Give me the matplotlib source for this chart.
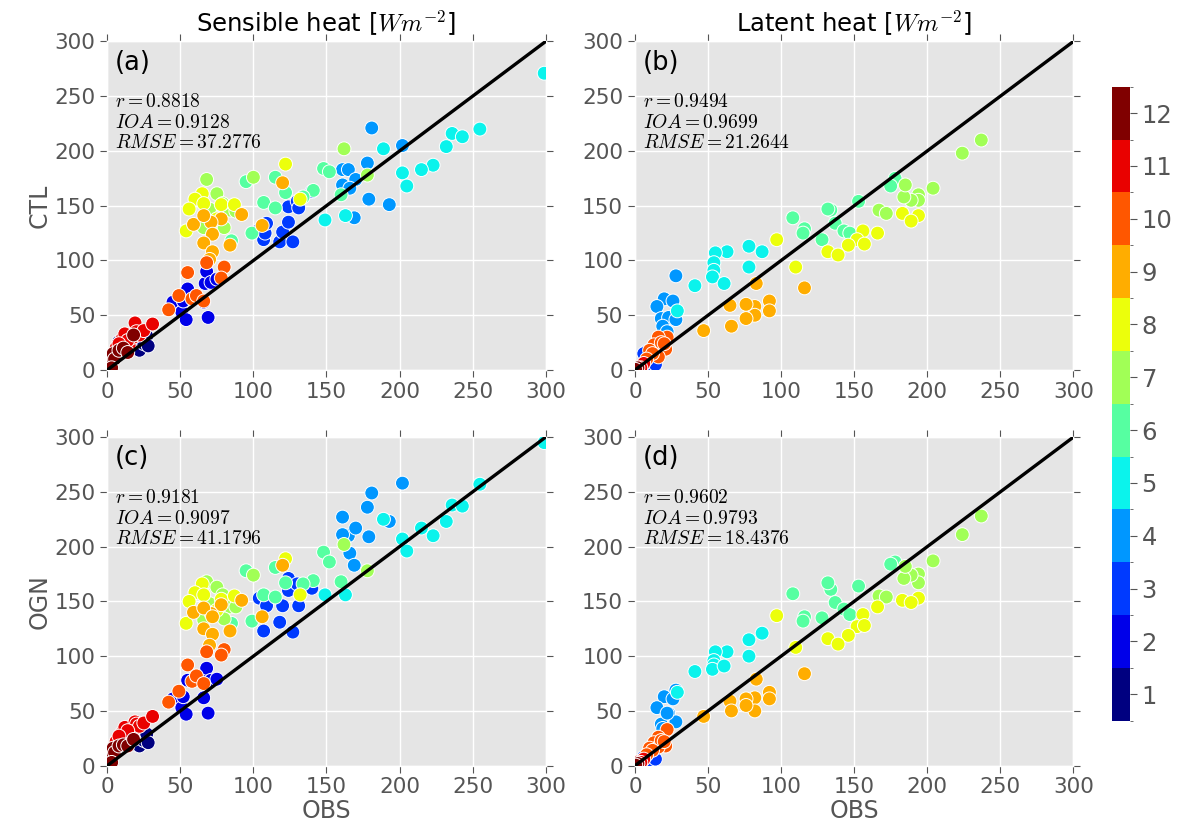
import matplotlib
matplotlib.use("Agg")
import matplotlib.pyplot as plt
import numpy as np
from matplotlib.colors import BoundaryNorm

plt.style.use("ggplot")
plt.rcParams["mathtext.fontset"] = "cm"

# ---- sensible heat (OBS shared by CTL and OGN), grouped by month ----
sh_obs = {
    1: [3, 6, 8, 12, 16, 20, 22, 25, 27, 28],
    2: [45, 51, 52, 54, 55, 66, 67, 68, 69, 71, 75],
    3: [104, 107, 108, 109, 118, 120, 124, 124, 127, 130, 131, 140],
    4: [181, 202, 178, 161, 165, 170, 161, 166, 179, 193, 169],
    5: [299, 255, 236, 243, 232, 189, 223, 215, 202, 205, 149, 163],
    6: [148, 152, 141, 134, 160, 115, 122, 107, 115, 95, 99, 85],
    7: [162, 178, 100, 68, 75, 70, 84, 88, 80, 66, 79],
    8: [122, 65, 60, 56, 66, 78, 87, 54, 75, 132],
    9: [120, 92, 78, 71, 59, 66, 72, 66, 84, 72, 70, 106],
    10: [55, 80, 49, 42, 58, 61, 66, 78, 68],
    11: [6, 10, 12, 15, 18, 19, 20, 22, 25, 31, 14, 8],
    12: [1, 2, 4, 5, 8, 11, 14, 18, 3],
}
sh_ctl = {
    1: [8, 14, 26, 20, 23, 20, 18, 24, 31, 22],
    2: [62, 53, 63, 46, 74, 62, 79, 90, 48, 80, 83],
    3: [128, 119, 125, 134, 117, 126, 135, 149, 117, 154, 148, 163],
    4: [221, 205, 189, 183, 183, 174, 169, 166, 156, 151, 139],
    5: [271, 220, 216, 213, 204, 202, 187, 183, 180, 168, 137, 141],
    6: [184, 181, 164, 158, 160, 176, 162, 153, 148, 172, 125, 118],
    7: [202, 178, 176, 174, 161, 147, 146, 145, 130, 130, 152],
    8: [188, 161, 156, 147, 152, 151, 151, 127, 138, 156],
    9: [171, 142, 138, 135, 133, 141, 124, 116, 114, 108, 101, 132],
    10: [89, 94, 68, 55, 65, 68, 63, 84, 98],
    11: [20, 28, 33, 23, 30, 43, 35, 32, 36, 42, 27, 24],
    12: [5, 12, 15, 10, 18, 20, 16, 32, 2],
}
sh_ogn = {
    1: [8, 14, 25, 20, 22, 19, 18, 23, 29, 21],
    2: [61, 53, 63, 47, 78, 62, 78, 89, 48, 78, 79],
    3: [153, 123, 155, 146, 131, 146, 160, 171, 122, 166, 146, 162],
    4: [249, 258, 236, 227, 210, 217, 211, 194, 209, 223, 183],
    5: [295, 257, 238, 237, 223, 225, 210, 217, 207, 196, 156, 156],
    6: [195, 186, 169, 166, 168, 181, 167, 156, 154, 178, 132, 130],
    7: [202, 178, 174, 168, 163, 148, 145, 145, 134, 133, 156],
    8: [189, 166, 158, 150, 156, 152, 155, 130, 142, 156],
    9: [183, 151, 147, 139, 140, 144, 136, 125, 123, 120, 110, 136],
    10: [92, 106, 68, 58, 77, 82, 75, 101, 104],
    11: [22, 30, 35, 28, 33, 40, 38, 36, 39, 45, 32, 27],
    12: [6, 11, 16, 12, 18, 19, 18, 24, 3],
}

# ---- latent heat ----
lh_obs = {
    1: [1, 2, 3],
    2: [4, 7, 9],
    3: [8, 6, 12, 10, 14],
    4: [28, 20, 26, 15, 18, 23, 28, 19, 22],
    5: [78, 87, 78, 63, 55, 54, 54, 53, 61, 41, 29],
    6: [178, 175, 153, 134, 132, 137, 143, 147, 128, 116, 115, 108],
    7: [237, 224, 204, 194, 194, 189, 184, 185, 167, 172],
    8: [183, 194, 189, 166, 156, 152, 157, 146, 132, 139, 97, 110],
    9: [116, 92, 92, 83, 82, 82, 76, 76, 65, 66, 47],
    10: [22, 16, 13, 21, 16, 10, 18, 12, 20, 8],
    11: [3, 5, 6, 4],
    12: [1, 2, 0.5],
}
lh_ctl = {
    1: [1, 2, 1],
    2: [3, 4, 8],
    3: [17, 15, 6, 5, 5],
    4: [86, 65, 63, 58, 47, 48, 46, 40, 35],
    5: [113, 108, 94, 108, 107, 98, 91, 85, 79, 77, 54],
    6: [175, 168, 154, 146, 147, 134, 127, 125, 119, 129, 125, 139],
    7: [210, 198, 166, 160, 155, 155, 158, 169, 146, 143],
    8: [143, 141, 136, 125, 127, 119, 115, 114, 108, 105, 119, 94],
    9: [75, 63, 54, 79, 58, 50, 60, 47, 59, 40, 36],
    10: [30, 30, 23, 19, 12, 18, 25, 15, 24, 10],
    11: [3, 4, 6, 2],
    12: [1, 2, 0.5],
}
lh_ogn = {
    1: [1, 1, 2],
    2: [3, 5, 8],
    3: [10, 8, 6, 5, 6],
    4: [69, 63, 61, 53, 38, 48, 40, 34, 48],
    5: [115, 121, 100, 104, 104, 96, 92, 88, 91, 86, 67],
    6: [186, 184, 164, 161, 167, 149, 143, 138, 135, 136, 132, 157],
    7: [228, 211, 187, 175, 167, 174, 171, 182, 155, 154],
    8: [151, 153, 149, 145, 138, 127, 128, 119, 116, 111, 137, 108],
    9: [84, 67, 61, 79, 62, 50, 61, 55, 59, 50, 45],
    10: [33, 26, 21, 18, 17, 16, 23, 14, 22, 10],
    11: [4, 5, 6, 3],
    12: [1, 2, 0.5],
}

stats = {
    "a": ("0.8818", "0.9128", "37.2776"),
    "b": ("0.9494", "0.9699", "21.2644"),
    "c": ("0.9181", "0.9097", "41.1796"),
    "d": ("0.9602", "0.9793", "18.4376"),
}
col_titles = ["Sensible heat [$Wm^{-2}$]", "Latent heat [$Wm^{-2}$]"]
row_labels = ["CTL", "OGN"]
ticks = [0, 50, 100, 150, 200, 250, 300]
months = list(range(1, 13))


def flatten(obs, mod):
    x, y, c = [], [], []
    for m in months:
        x += obs[m]
        y += mod[m]
        c += [m] * len(obs[m])
    return np.array(x, float), np.array(y, float), np.array(c)


cmap = plt.get_cmap("jet", 12)
norm = BoundaryNorm(np.arange(0.5, 13.5, 1), 12)

fig = plt.figure(figsize=(11.88, 8.36), dpi=100)
fig.patch.set_facecolor("white")

lefts = [0.0903, 0.5345]
bottoms = [0.5574, 0.0841]
w, h = 0.3690, 0.3930

panels = [
    ("a", sh_obs, sh_ctl, 0, 0),
    ("b", lh_obs, lh_ctl, 0, 1),
    ("c", sh_obs, sh_ogn, 1, 0),
    ("d", lh_obs, lh_ogn, 1, 1),
]

sc = None
for tag, obs, mod, row, col in panels:
    ax = fig.add_axes([lefts[col], bottoms[row], w, h])
    x, y, c = flatten(obs, mod)
    sc = ax.scatter(x, y, c=c, cmap=cmap, norm=norm, s=100,
                    edgecolors="white", linewidths=0.7, zorder=3, clip_on=True)
    ax.plot([0, 300], [0, 300], color="black", linewidth=2.4, zorder=4)
    ax.set_xlim(0, 300)
    ax.set_ylim(0, 300)
    ax.set_xticks(ticks)
    ax.set_yticks(ticks)
    ax.tick_params(axis="both", labelsize=15.5, colors="#555555", direction="out",
                   length=5, top=True, right=True)
    ax.grid(True, color="white", linewidth=1.0)
    ax.set_axisbelow(True)
    ax.text(0.018, 0.975, f"({tag})", transform=ax.transAxes, fontsize=18.5,
            va="top", ha="left", zorder=5)
    r, ioa, rmse = stats[tag]
    ax.text(0.018, 0.845, f"$r={r}$\n$IOA={ioa}$\n$RMSE={rmse}$",
            transform=ax.transAxes, fontsize=14, va="top", ha="left",
            linespacing=1.1, zorder=5)
    if row == 0:
        ax.set_title(col_titles[col], fontsize=17.5, pad=7)
    else:
        ax.set_xlabel("OBS", fontsize=17, color="#555555", labelpad=1)
    if col == 0:
        ax.set_ylabel(row_labels[row], fontsize=17, color="#555555", labelpad=2)

cax = fig.add_axes([0.9363, 0.1379, 0.0147, 0.7584])
cb = fig.colorbar(sc, cax=cax, ticks=months)
cb.outline.set_visible(False)
cax.tick_params(labelsize=17.5, colors="#555555", length=5)

fig.savefig("out.png", dpi=100)
